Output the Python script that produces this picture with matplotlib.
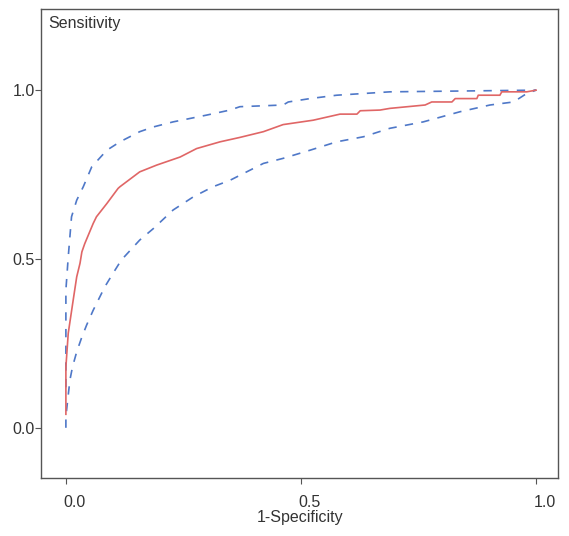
import matplotlib
matplotlib.use('Agg')
from matplotlib import pyplot as plt
import matplotlib.transforms as mtransforms

plt.rcParams['font.family'] = ['Liberation Sans', 'DejaVu Sans']

# ROC curve (1-specificity, sensitivity)
roc_x = [0.0, 0.0, 0.0, 0.005, 0.0155, 0.023, 0.030, 0.034, 0.040, 0.058,
         0.065, 0.087, 0.111, 0.115, 0.157, 0.193, 0.243, 0.278, 0.328, 0.370,
         0.420, 0.462, 0.526, 0.583, 0.619, 0.626, 0.668, 0.689, 0.764, 0.778,
         0.821, 0.828, 0.874, 0.877, 0.923, 0.927, 0.980, 1.0]
roc_y = [0.04, 0.10, 0.18, 0.28, 0.378, 0.447, 0.487, 0.521, 0.545, 0.605,
         0.625, 0.664, 0.709, 0.714, 0.758, 0.778, 0.802, 0.827, 0.847, 0.860,
         0.877, 0.898, 0.911, 0.929, 0.929, 0.939, 0.941, 0.946, 0.956, 0.965,
         0.965, 0.975, 0.975, 0.985, 0.985, 0.995, 0.995, 1.0]

# upper confidence band
up_x = [0.0, 0.0, 0.0, 0.005, 0.012, 0.023, 0.037, 0.055, 0.087, 0.115, 0.157,
        0.186, 0.228, 0.299, 0.349, 0.370, 0.462, 0.473, 0.519, 0.576, 0.689, 1.0]
up_y = [0.12, 0.35, 0.408, 0.506, 0.625, 0.674, 0.714, 0.773, 0.822, 0.847, 0.877,
        0.891, 0.906, 0.926, 0.941, 0.951, 0.956, 0.965, 0.975, 0.985, 0.995, 1.0]

# lower confidence band
lo_x = [0.0, 0.0, 0.005, 0.0085, 0.014, 0.023, 0.033, 0.044, 0.058, 0.083, 0.100,
        0.118, 0.157, 0.186, 0.228, 0.271, 0.313, 0.349, 0.420, 0.462, 0.519,
        0.576, 0.633, 0.689, 0.760, 0.838, 0.902, 0.952, 0.980, 1.0]
lo_y = [0.0, 0.033, 0.097, 0.141, 0.180, 0.225, 0.265, 0.304, 0.348, 0.418, 0.457,
        0.497, 0.556, 0.590, 0.645, 0.684, 0.714, 0.733, 0.783, 0.798, 0.822,
        0.847, 0.862, 0.887, 0.906, 0.936, 0.956, 0.965, 0.990, 1.0]

ticks = [0.0, 0.5, 1.0]
tick_labels = ['0.0', '0.5', '1.0']

fig = plt.figure(figsize=(5.69, 5.36), dpi=100)
ax = fig.add_axes([0.072, 0.108, 0.909, 0.875])

ax.plot(up_x, up_y, color='#4f78c8', lw=1.2, dashes=(5, 5))
ax.plot(lo_x, lo_y, color='#4f78c8', lw=1.2, dashes=(5, 5))
ax.plot(roc_x, roc_y, color='#e06666', lw=1.2)

ax.set_xlim(-0.053, 1.047)
ax.set_ylim(-0.149, 1.24)
ax.set_xticks(ticks)
ax.set_xticklabels(tick_labels)
ax.set_yticks(ticks)
ax.set_yticklabels(tick_labels)
ax.tick_params(axis='both', direction='out', length=4, width=0.8, colors='#555555',
               labelsize=11.5, labelcolor='#333333')
ax.tick_params(axis='x', pad=8)
ax.tick_params(axis='y', pad=0.5)
for s in ax.spines.values():
    s.set_color('#555555')
    s.set_linewidth(1.0)

# x tick labels sit a little to the right of their ticks in the original
shift = mtransforms.ScaledTranslation(9 / 100, 0, fig.dpi_scale_trans)
for lab in ax.get_xticklabels():
    lab.set_transform(lab.get_transform() + shift)

ax.set_xlabel('1-Specificity', fontsize=11.5, color='#333333', labelpad=0)
ax.text(0.015, 0.985, 'Sensitivity', transform=ax.transAxes, ha='left', va='top',
        fontsize=11.5, color='#333333')

fig.savefig('out.png', dpi=100)
